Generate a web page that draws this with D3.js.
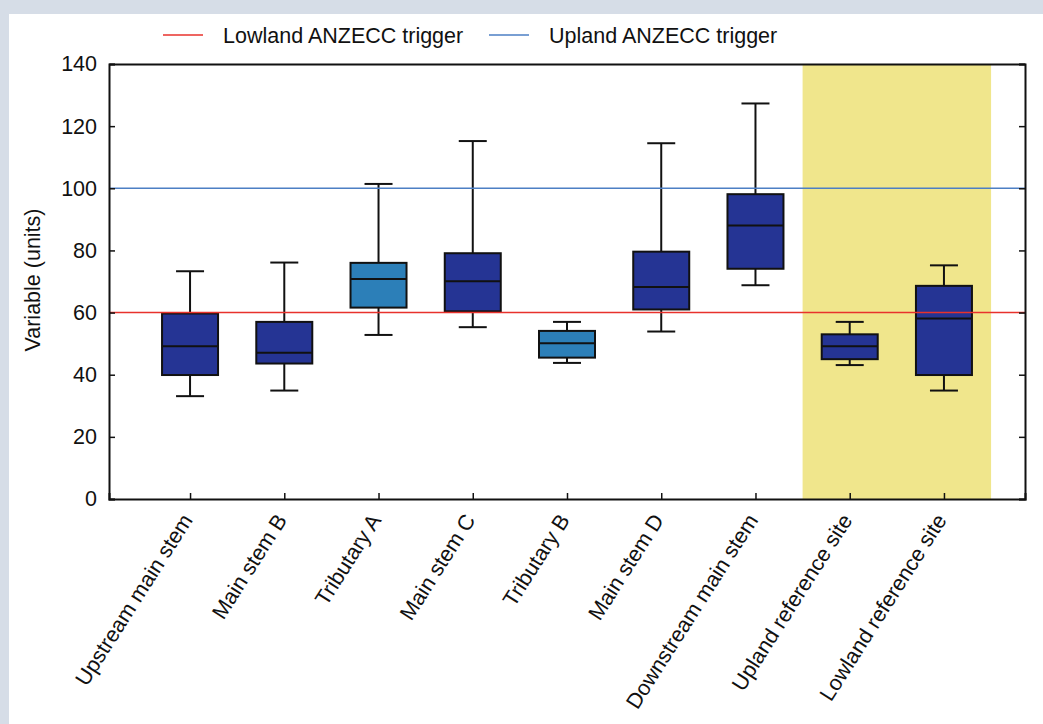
<!DOCTYPE html>
<html>
<head>
<meta charset="utf-8">
<script src="https://cdn.jsdelivr.net/npm/d3@7"></script>
<style>
  body { margin: 0; background: #d6dde7; }
  svg { display: block; font-family: "Liberation Sans", Arial, sans-serif; }
</style>
</head>
<body>
<div id="chart"></div>
<script>
// site names along the x axis
const sites = [
  'Upstream main stem', 'Main stem B', 'Tributary A', 'Main stem C', 'Tributary B',
  'Main stem D', 'Downstream main stem', 'Upland reference site', 'Lowland reference site'
];
// box plot stats
const whiskerLow = [33.1, 34.9, 52.8, 55.3, 43.8, 53.9, 68.8, 43.1, 34.9];
const q1 = [39.9, 43.6, 61.6, 60.4, 45.5, 61.0, 74.1, 45.0, 39.9];
const median = [49.2, 47.1, 70.8, 70.1, 50.1, 68.2, 88.0, 49.2, 58.1];
const q3 = [59.7, 57.0, 76.0, 79.1, 54.1, 79.6, 98.1, 53.0, 68.6];
const whiskerHigh = [73.3, 76.1, 101.4, 115.2, 57.0, 114.5, 127.3, 57.0, 75.2];
const tributaries = ['Tributary A', 'Tributary B'];
const referenceSites = ['Upland reference site', 'Lowland reference site'];
const yTicks = [0, 20, 40, 60, 80, 100, 120, 140];
const triggers = [
  { name: 'Lowland ANZECC trigger', value: 60, color: '#e8322c' },
  { name: 'Upland ANZECC trigger', value: 100, color: '#4d7fc4' }
];

const width = 1043;
const height = 724;
const margin = { top: 64, right: 18, bottom: 225, left: 109 };
const fontSize = 21.5;

const boxes = sites.map((site, i) => ({
  site,
  low: whiskerLow[i],
  q1: q1[i],
  median: median[i],
  q3: q3[i],
  high: whiskerHigh[i]
}));

const svg = d3.select('#chart')
  .append('svg')
  .attr('width', width)
  .attr('height', height);

// white panel over the grey page
svg.append('rect')
  .attr('x', 9).attr('y', 14)
  .attr('width', width - 9).attr('height', height - 14)
  .attr('fill', '#fff');

const x = d3.scalePoint()
  .domain(sites)
  .range([margin.left, width - margin.right])
  .padding(0.86);

const y = d3.scaleLinear()
  .domain([0, 140])
  .range([height - margin.bottom, margin.top]);

const step = x.step();

// highlight behind the reference sites
svg.append('rect')
  .attr('x', x(referenceSites[0]) - step / 2)
  .attr('y', y(140))
  .attr('width', x(referenceSites[1]) - x(referenceSites[0]) + step)
  .attr('height', y(0) - y(140))
  .attr('fill', '#f0e68c');

const boxW = 56;
const capW = 28;

const g = svg.append('g').attr('class', 'boxes');
const box = g.selectAll('g').data(boxes).join('g');

box.append('line')
  .attr('x1', (d) => x(d.site)).attr('x2', (d) => x(d.site))
  .attr('y1', (d) => y(d.low)).attr('y2', (d) => y(d.q1))
  .attr('stroke', '#111').attr('stroke-width', 2);
box.append('line')
  .attr('x1', (d) => x(d.site)).attr('x2', (d) => x(d.site))
  .attr('y1', (d) => y(d.q3)).attr('y2', (d) => y(d.high))
  .attr('stroke', '#111').attr('stroke-width', 2);
// caps
box.selectAll('.cap')
  .data((d) => [d.low, d.high].map((v) => ({ site: d.site, v })))
  .join('line')
  .attr('class', 'cap')
  .attr('x1', (d) => x(d.site) - capW / 2).attr('x2', (d) => x(d.site) + capW / 2)
  .attr('y1', (d) => y(d.v)).attr('y2', (d) => y(d.v))
  .attr('stroke', '#111').attr('stroke-width', 2);

box.append('rect')
  .attr('x', (d) => x(d.site) - boxW / 2)
  .attr('y', (d) => y(d.q3))
  .attr('width', boxW)
  .attr('height', (d) => y(d.q1) - y(d.q3))
  .attr('fill', (d) => tributaries.includes(d.site) ? '#2c7fb8' : '#253494')
  .attr('stroke', '#111').attr('stroke-width', 2);

box.append('line')
  .attr('x1', (d) => x(d.site) - boxW / 2).attr('x2', (d) => x(d.site) + boxW / 2)
  .attr('y1', (d) => y(d.median)).attr('y2', (d) => y(d.median))
  .attr('stroke', '#111').attr('stroke-width', 2);

// trigger lines on top of the boxes
svg.append('g').selectAll('line').data(triggers).join('line')
  .attr('x1', margin.left).attr('x2', width - margin.right)
  .attr('y1', (d) => y(d.value)).attr('y2', (d) => y(d.value))
  .attr('stroke', (d) => d.color).attr('stroke-width', 1.5);

// axes with inward ticks
const leftAxis = svg.append('g')
  .attr('transform', `translate(${margin.left},0)`)
  .call(d3.axisLeft(y).tickValues(yTicks).tickSize(-6).tickPadding(12));
const rightAxis = svg.append('g')
  .attr('transform', `translate(${width - margin.right},0)`)
  .call(d3.axisRight(y).tickValues(yTicks).tickSize(-6).tickFormat(''));
const bottomAxis = svg.append('g')
  .attr('transform', `translate(0,${height - margin.bottom})`)
  .call(d3.axisBottom(x).tickSize(-6).tickFormat(''));
const topAxis = svg.append('g')
  .attr('transform', `translate(0,${margin.top})`)
  .call(d3.axisTop(x).tickSize(0).tickFormat(''));

[leftAxis, rightAxis, bottomAxis, topAxis].forEach((ax) => {
  ax.select('.domain').attr('stroke', '#111').attr('stroke-width', 2);
  ax.selectAll('.tick line').attr('stroke', '#111').attr('stroke-width', 1.5);
});
leftAxis.selectAll('.tick text')
  .attr('font-size', fontSize).attr('fill', '#111')
  .attr('font-family', '"Liberation Sans", Arial, sans-serif');

// rotated site labels
svg.append('g').selectAll('text').data(sites).join('text')
  .attr('transform', (d) => `translate(${x(d) - 3},${height - margin.bottom + 17}) rotate(-57.5)`)
  .attr('text-anchor', 'end')
  .attr('dy', '0.35em')
  .attr('font-size', fontSize)
  .attr('fill', '#111')
  .text((d) => d);

// y axis title
svg.append('text')
  .attr('transform', `translate(40,280) rotate(-90)`)
  .attr('text-anchor', 'middle')
  .attr('font-size', fontSize)
  .attr('fill', '#111')
  .text('Variable (units)');

// legend
const legendPos = [163, 489];
const legend = svg.append('g').selectAll('g').data(triggers).join('g')
  .attr('transform', (d, i) => `translate(${legendPos[i]},35)`);
legend.append('line')
  .attr('x1', 0).attr('x2', 40)
  .attr('stroke', (d) => d.color).attr('stroke-width', 1.5);
legend.append('text')
  .attr('x', 60).attr('dy', '0.35em')
  .attr('font-size', fontSize)
  .attr('fill', '#111')
  .text((d) => d.name);
</script>
</body>
</html>
